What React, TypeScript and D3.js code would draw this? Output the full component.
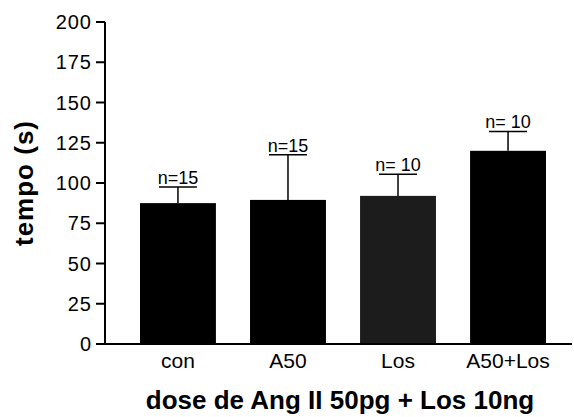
import React from "react";
import * as d3 from "d3";

const groups = ["con", "A50", "Los", "A50+Los"];
const means = [87.5, 89.5, 92, 120];
const errTops = [97.5, 117.5, 105.5, 132];
const nLabels = ["n=15", "n=15", "n= 10", "n= 10"];
const barColors = ["#000", "#000", "#1c1c1c", "#000"];
const yTicks = [0, 25, 50, 75, 100, 125, 150, 175, 200];

export default function App() {
  const W = 574;
  const H = 417;
  const y = d3.scaleLinear().domain([0, 200]).range([344, 22]);
  const x = d3.scaleBand<string>().domain(groups).range([140, 546]).paddingInner(0.31).paddingOuter(0);
  const bw = x.bandwidth();
  const font = "'Liberation Sans', Arial, sans-serif";

  return (
    <svg width={W} height={H} style={{ position: "absolute", left: 0, top: 0, background: "#fff" }}>
      {/* bars */}
      {groups.map((g, i) => {
        const cx = (x(g) as number) + bw / 2;
        return (
          <g key={g}>
            <rect x={x(g)} y={y(means[i])} width={bw} height={y(0) - y(means[i])} fill={barColors[i]} />
            <line x1={cx} x2={cx} y1={y(means[i])} y2={y(errTops[i])} stroke="#000" strokeWidth={1.5} />
            <line x1={cx - bw / 4} x2={cx + bw / 4} y1={y(errTops[i])} y2={y(errTops[i])} stroke="#000" strokeWidth={1.5} />
            <text x={cx} y={y(errTops[i]) - 3} textAnchor="middle" fontFamily={font} fontSize={18}>
              {nLabels[i]}
            </text>
            <text x={cx} y={368} textAnchor="middle" fontFamily={font} fontSize={21}>
              {g}
            </text>
          </g>
        );
      })}
      {/* y axis */}
      <line x1={105} x2={105} y1={y(200)} y2={y(0)} stroke="#000" strokeWidth={2} />
      <line x1={96} x2={572} y1={y(0)} y2={y(0)} stroke="#000" strokeWidth={2} />
      {yTicks.map((t) => (
        <g key={t}>
          <line x1={96} x2={105} y1={y(t)} y2={y(t)} stroke="#000" strokeWidth={2} />
          <text x={92} y={y(t)} dy="0.36em" textAnchor="end" fontFamily={font} fontSize={20} letterSpacing={1}>
            {t}
          </text>
        </g>
      ))}
      <text
        transform={`translate(33,183) rotate(-90)`}
        textAnchor="middle"
        fontFamily={font}
        fontWeight="bold"
        fontSize={26}
        letterSpacing={1}
      >
        tempo (s)
      </text>
      <text x={340} y={409} textAnchor="middle" fontFamily={font} fontWeight="bold" fontSize={26}>
        dose de Ang II 50pg + Los 10ng
      </text>
    </svg>
  );
}
